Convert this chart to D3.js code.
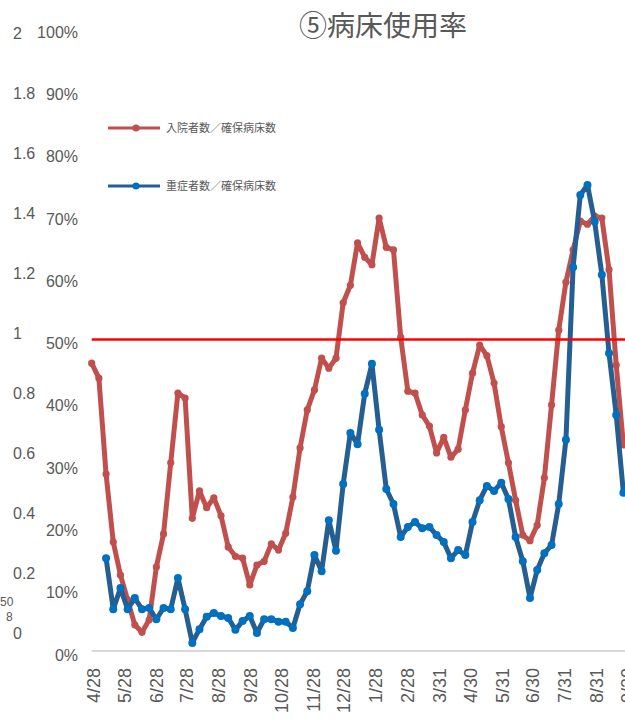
<!DOCTYPE html>
<html><head><meta charset="utf-8">
<script src="https://cdn.jsdelivr.net/npm/d3@7"></script>
<style>
html,body{margin:0;padding:0;background:#fff;}
svg{display:block;}
text{font-family:"Liberation Sans Narrow","Liberation Sans",Arial,sans-serif;fill:#595959;}
.cjk{font-family:"Noto Sans CJK JP","Noto Sans CJK SC",sans-serif;}
</style></head>
<body>
<div id="chart"></div>
<script>
// ---- data ----
const dates = ["2020-04-28","2020-05-05","2020-05-12","2020-05-19","2020-05-26","2020-06-02","2020-06-09","2020-06-16","2020-06-23","2020-06-30",
"2020-07-07","2020-07-14","2020-07-21","2020-07-28","2020-08-04","2020-08-11","2020-08-18","2020-08-25","2020-09-01","2020-09-08",
"2020-09-15","2020-09-22","2020-09-29","2020-10-06","2020-10-13","2020-10-20","2020-10-27","2020-11-03","2020-11-10","2020-11-17",
"2020-11-24","2020-12-01","2020-12-08","2020-12-15","2020-12-22","2020-12-29","2021-01-05","2021-01-12","2021-01-19","2021-01-26",
"2021-02-02","2021-02-09","2021-02-16","2021-02-23","2021-03-02","2021-03-09","2021-03-16","2021-03-23","2021-03-30","2021-04-06",
"2021-04-13","2021-04-20","2021-04-27","2021-05-04","2021-05-11","2021-05-18","2021-05-25","2021-06-01","2021-06-08","2021-06-15",
"2021-06-22","2021-06-29","2021-07-06","2021-07-13","2021-07-20","2021-07-27","2021-08-03","2021-08-10","2021-08-17","2021-08-24",
"2021-08-31","2021-09-07","2021-09-14","2021-09-21","2021-09-28"];
// 入院者数／確保病床数 (%)
const inpatient = [46.2,43.8,28.4,17.5,12.2,8.2,4.2,3.0,5.0,13.5,
18.8,30.2,41.4,40.6,21.3,25.7,23.0,24.6,21.7,16.7,
15.2,14.9,10.6,13.8,14.4,17.2,16.2,18.9,24.7,32.6,
38.7,41.9,47.0,45.4,47.0,55.9,58.7,65.5,63.2,62.0,
69.5,64.8,64.4,50.4,41.7,41.4,37.9,36.1,31.8,34.3,
31.1,32.4,38.7,44.6,49.1,47.4,43.0,36.0,30.2,24.2,
18.6,17.7,20.2,27.8,39.5,51.5,59.2,64.4,69.0,68.5,
69.8,69.5,61.2,45.9,33.1];
// 重症者数／確保病床数 (%)
const severe = [null,null,14.9,6.7,10.1,6.7,8.5,6.7,6.9,5.1,
6.9,6.7,11.7,6.7,1.3,3.5,5.5,6.1,5.6,5.3,
3.4,4.8,5.6,2.9,5.1,5.1,4.7,4.7,3.7,7.5,
9.6,15.4,12.8,21.0,16.1,26.8,35.0,33.2,41.3,46.1,
35.5,26.0,23.6,18.3,19.9,20.7,19.7,19.9,18.6,17.5,
14.9,16.2,15.4,20.7,24.2,26.5,25.7,27.0,24.4,18.3,
14.4,8.5,13.0,15.7,17.0,23.6,33.9,61.6,73.2,74.8,
68.9,60.4,47.8,37.9,25.4];
const seriesNames = ["入院者数／確保病床数","重症者数／確保病床数"];
const tickDates = ["2020-04-28","2020-05-28","2020-06-28","2020-07-28","2020-08-28","2020-09-28","2020-10-28","2020-11-28","2020-12-28",
"2021-01-28","2021-02-28","2021-03-31","2021-04-30","2021-05-31","2021-06-30","2021-07-31","2021-08-31","2021-09-30"];
const tickLabels = ["4/28","5/28","6/28","7/28","8/28","9/28","10/28","11/28","12/28","1/28","2/28","3/31","4/30","5/31","6/30","7/31","8/31","9/30"];
const pctTicks = [0,10,20,30,40,50,60,70,80,90,100];
const leftTicks = [0,0.2,0.4,0.6,0.8,1,1.2,1.4,1.6,1.8,2];
const leftLabels = ["0","0.2","0.4","0.6","0.8","1","1.2","1.4","1.6","1.8","2"];
const threshold = 50;
const title = "⑤病床使用率";

// ---- chart ----
const W = 625, H = 720;
const parse = d3.timeParse("%Y-%m-%d");
const svg = d3.select("#chart").append("svg").attr("width", W).attr("height", H);

const x = d3.scaleTime().domain([parse(dates[0]), parse(dates[dates.length-1])]).range([91.7, 623.4]);
const y = d3.scaleLinear().domain([0, 100]).range([651, 28]);
const yl = d3.scaleLinear().domain([0, 2]).range([632, 32]);

// baseline
svg.append("line").attr("x1", x(parse(dates[0]))).attr("x2", W).attr("y1", y(0)).attr("y2", y(0))
  .attr("stroke", "#D9D9D9").attr("stroke-width", 2);

// percent axis
const ga = svg.append("g").attr("transform", "translate(78,4)")
  .call(d3.axisLeft(y).tickValues(pctTicks).tickFormat(d => d + "%").tickSize(0).tickPadding(0));
ga.select(".domain").remove();
ga.selectAll("text").attr("font-size", 16).attr("fill", "#595959");

// secondary labels at left
const gl = svg.append("g").attr("transform", "translate(13,1)")
  .call(d3.axisRight(yl).tickValues(leftTicks).tickFormat((d, i) => leftLabels[i]).tickSize(0).tickPadding(0));
gl.select(".domain").remove();
gl.selectAll("text").attr("font-size", 16).attr("fill", "#595959");
svg.append("text").attr("x", 0).attr("y", 606).attr("font-size", 12).text("50");
svg.append("text").attr("x", 6).attr("y", 621).attr("font-size", 12).text("8");

// x axis labels
const gx = svg.append("g").attr("transform", "translate(2,0)")
  .call(d3.axisBottom(x).tickValues(tickDates.map(parse)).tickFormat((d, i) => tickLabels[i]).tickSize(0));
gx.select(".domain").remove();
gx.selectAll("text")
  .attr("font-size", 18).attr("fill", "#595959")
  .attr("text-anchor", "end")
  .attr("transform", "rotate(-90)")
  .attr("x", -668).attr("y", 0).attr("dy", "0.35em");
gx.selectAll(".tick").attr("transform", d => `translate(${x(d)},0)`);

// lines
const line = d3.line().defined(d => d[1] != null).x(d => x(d[0])).y(d => y(d[1]));
const redData = dates.map((d, i) => [parse(d), inpatient[i]]);
const blueData = dates.map((d, i) => [parse(d), severe[i]]);

svg.append("path").datum(redData).attr("d", line).attr("fill", "none")
  .attr("stroke", "#C0504D").attr("stroke-width", 5).attr("stroke-linejoin", "round");
svg.append("g").selectAll("circle").data(redData.filter(d => d[1] != null)).join("circle")
  .attr("cx", d => x(d[0])).attr("cy", d => y(d[1])).attr("r", 3.6).attr("fill", "#C0504D");

svg.append("path").datum(blueData).attr("d", line).attr("fill", "none")
  .attr("stroke", "#255E91").attr("stroke-width", 5).attr("stroke-linejoin", "round");
svg.append("g").selectAll("circle").data(blueData.filter(d => d[1] != null)).join("circle")
  .attr("cx", d => x(d[0])).attr("cy", d => y(d[1])).attr("r", 4).attr("fill", "#0070C0");

// 50% threshold line
svg.append("line").attr("x1", x(parse(dates[0]))).attr("x2", W).attr("y1", y(threshold)).attr("y2", y(threshold))
  .attr("stroke", "#FF0000").attr("stroke-width", 2.5);

// title
svg.append("text").attr("class", "cjk").attr("x", 383).attr("y", 36).attr("text-anchor", "middle")
  .attr("font-size", 28).text(title);

// legend
const legend = [{name: seriesNames[0], line: "#C0504D", dot: "#C0504D", y: 128},
                {name: seriesNames[1], line: "#255E91", dot: "#0070C0", y: 186}];
const lg = svg.append("g").selectAll("g").data(legend).join("g");
lg.append("line").attr("x1", 108).attr("x2", 160).attr("y1", d => d.y).attr("y2", d => d.y)
  .attr("stroke", d => d.line).attr("stroke-width", 3);
lg.append("circle").attr("cx", 136).attr("cy", d => d.y).attr("r", 3.6).attr("fill", d => d.dot);
lg.append("text").attr("class", "cjk").attr("x", 166).attr("y", d => d.y).attr("dy", "0.35em")
  .attr("font-size", 11).text(d => d.name);
</script>
</body></html>
